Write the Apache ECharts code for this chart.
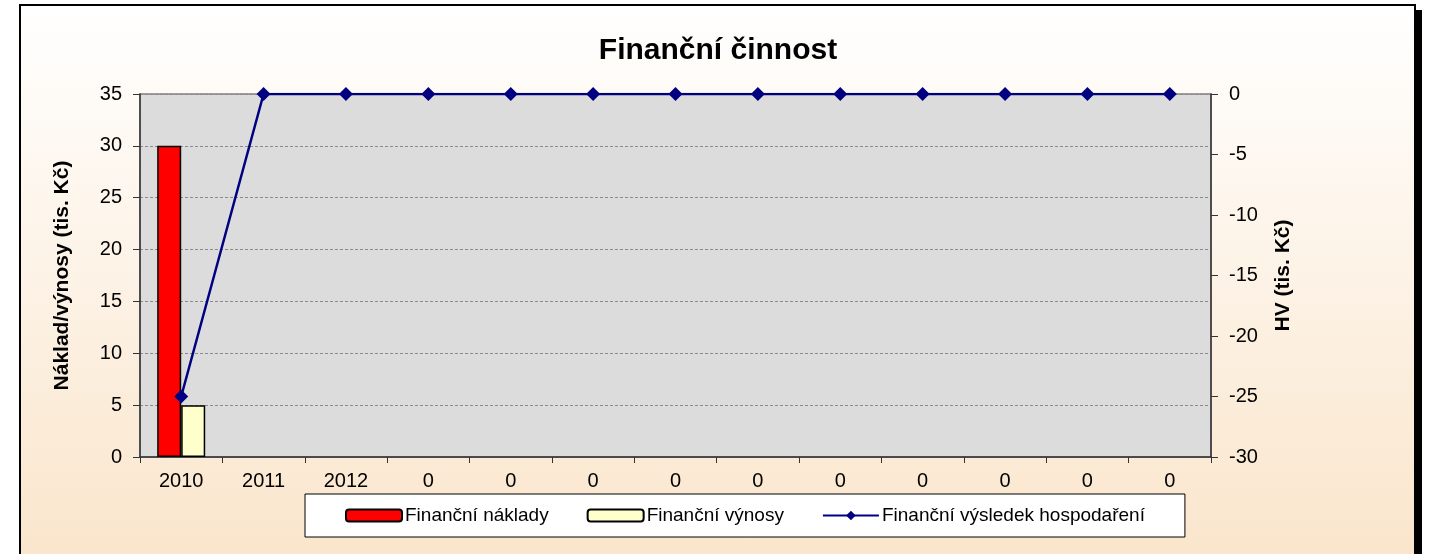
<!DOCTYPE html>
<html>
<head>
<meta charset="utf-8">
<script src="https://cdn.jsdelivr.net/npm/echarts@6/dist/echarts.min.js"></script>
<style>
  html, body { margin: 0; padding: 0; background: #ffffff; }
  #chart { width: 1431px; height: 554px; }
</style>
</head>
<body>
<div id="chart"></div>
<script>
// chart data
const categories = ['2010', '2011', '2012', '0', '0', '0', '0', '0', '0', '0', '0', '0', '0']
const naklady = [30, null, null, null, null, null, null, null, null, null, null, null, null]
const vynosy = [5, null, null, null, null, null, null, null, null, null, null, null, null]
const vysledek = [-25, 0, 0, 0, 0, 0, 0, 0, 0, 0, 0, 0, 0]

const font = 'Liberation Sans, Arial, sans-serif'
const chart = echarts.init(document.getElementById('chart'))

const option = {
  animation: false,
  textStyle: { fontFamily: font, color: '#000' },
  graphic: [
    // drop shadow of the frame
    { type: 'rect', z: -10, shape: { x: 1416, y: 10, width: 6, height: 560 }, style: { fill: '#000' } },
    {
      type: 'rect', z: -9,
      shape: { x: 20, y: 5, width: 1395, height: 560 },
      style: {
        fill: new echarts.graphic.LinearGradient(0, 0, 0, 1, [
          { offset: 0, color: '#ffffff' },
          { offset: 1, color: '#fae5cb' }
        ]),
        stroke: '#000', lineWidth: 2
      }
    }
  ],
  title: {
    text: 'Finanční činnost',
    left: 713, textAlign: 'center', top: 31,
    textStyle: { fontFamily: font, fontSize: 30, fontWeight: 'bold', color: '#000' }
  },
  legend: {
    left: 305, top: 494, width: 880,
    padding: [12, 40, 12, 40],
    itemGap: 38, itemWidth: 56, itemHeight: 12,
    backgroundColor: '#ffffff', borderColor: '#000', borderWidth: 1,
    textStyle: { fontFamily: font, fontSize: 19, color: '#000', padding: [0, 0, 0, -2] },
    data: ['Finanční náklady', 'Finanční výnosy', 'Finanční výsledek hospodaření']
  },
  grid: {
    left: 140, right: 220, top: 94, bottom: 97,
    show: true, backgroundColor: '#dcdcdc', borderColor: '#808080', borderWidth: 1.5
  },
  xAxis: {
    type: 'category', data: categories, boundaryGap: true,
    axisLine: { lineStyle: { color: '#333', width: 1.5 } },
    axisTick: { show: true, length: 6, lineStyle: { color: '#333' } },
    axisLabel: { fontSize: 20, color: '#000', margin: 14, fontFamily: font, interval: 0 }
  },
  yAxis: [
    {
      type: 'value', min: 0, max: 35, interval: 5,
      name: 'Náklad/výnosy (tis. Kč)', nameLocation: 'middle', nameGap: 67, nameRotate: 90,
      nameTextStyle: { fontFamily: font, fontSize: 21, fontWeight: 'bold', color: '#000' },
      axisLine: { show: true, lineStyle: { color: '#333', width: 1.5 } },
      axisTick: { show: true, length: 7, lineStyle: { color: '#333' } },
      axisLabel: { fontSize: 20, color: '#000', margin: 18, fontFamily: font },
      splitLine: { show: true, lineStyle: { color: '#8a8a8a', type: [3, 2], width: 1 } }
    },
    {
      type: 'value', min: -30, max: 0, interval: 5, position: 'right',
      name: 'HV (tis. Kč)', nameLocation: 'middle', nameGap: 62, nameRotate: 90,
      nameTextStyle: { fontFamily: font, fontSize: 21, fontWeight: 'bold', color: '#000' },
      axisLine: { show: true, lineStyle: { color: '#333', width: 1.5 } },
      axisTick: { show: true, length: 7, lineStyle: { color: '#333' } },
      axisLabel: { fontSize: 20, color: '#000', margin: 18, fontFamily: font },
      splitLine: { show: false }
    }
  ],
  series: [
    {
      name: 'Finanční náklady', type: 'bar', yAxisIndex: 0,
      data: naklady, barWidth: 24, barGap: '0%',
      itemStyle: { color: '#ff0000', borderColor: '#000', borderWidth: 1.5 }
    },
    {
      name: 'Finanční výnosy', type: 'bar', yAxisIndex: 0,
      data: vynosy, barWidth: 24, barGap: '0%',
      itemStyle: { color: '#ffffcc', borderColor: '#000', borderWidth: 1.5 }
    },
    {
      name: 'Finanční výsledek hospodaření', type: 'line', yAxisIndex: 1, z: 5,
      data: vysledek, symbol: 'diamond', symbolSize: 14,
      lineStyle: { color: '#000080', width: 2.5 },
      itemStyle: { color: '#000080' }
    }
  ]
}

chart.setOption(option)
</script>
</body>
</html>
